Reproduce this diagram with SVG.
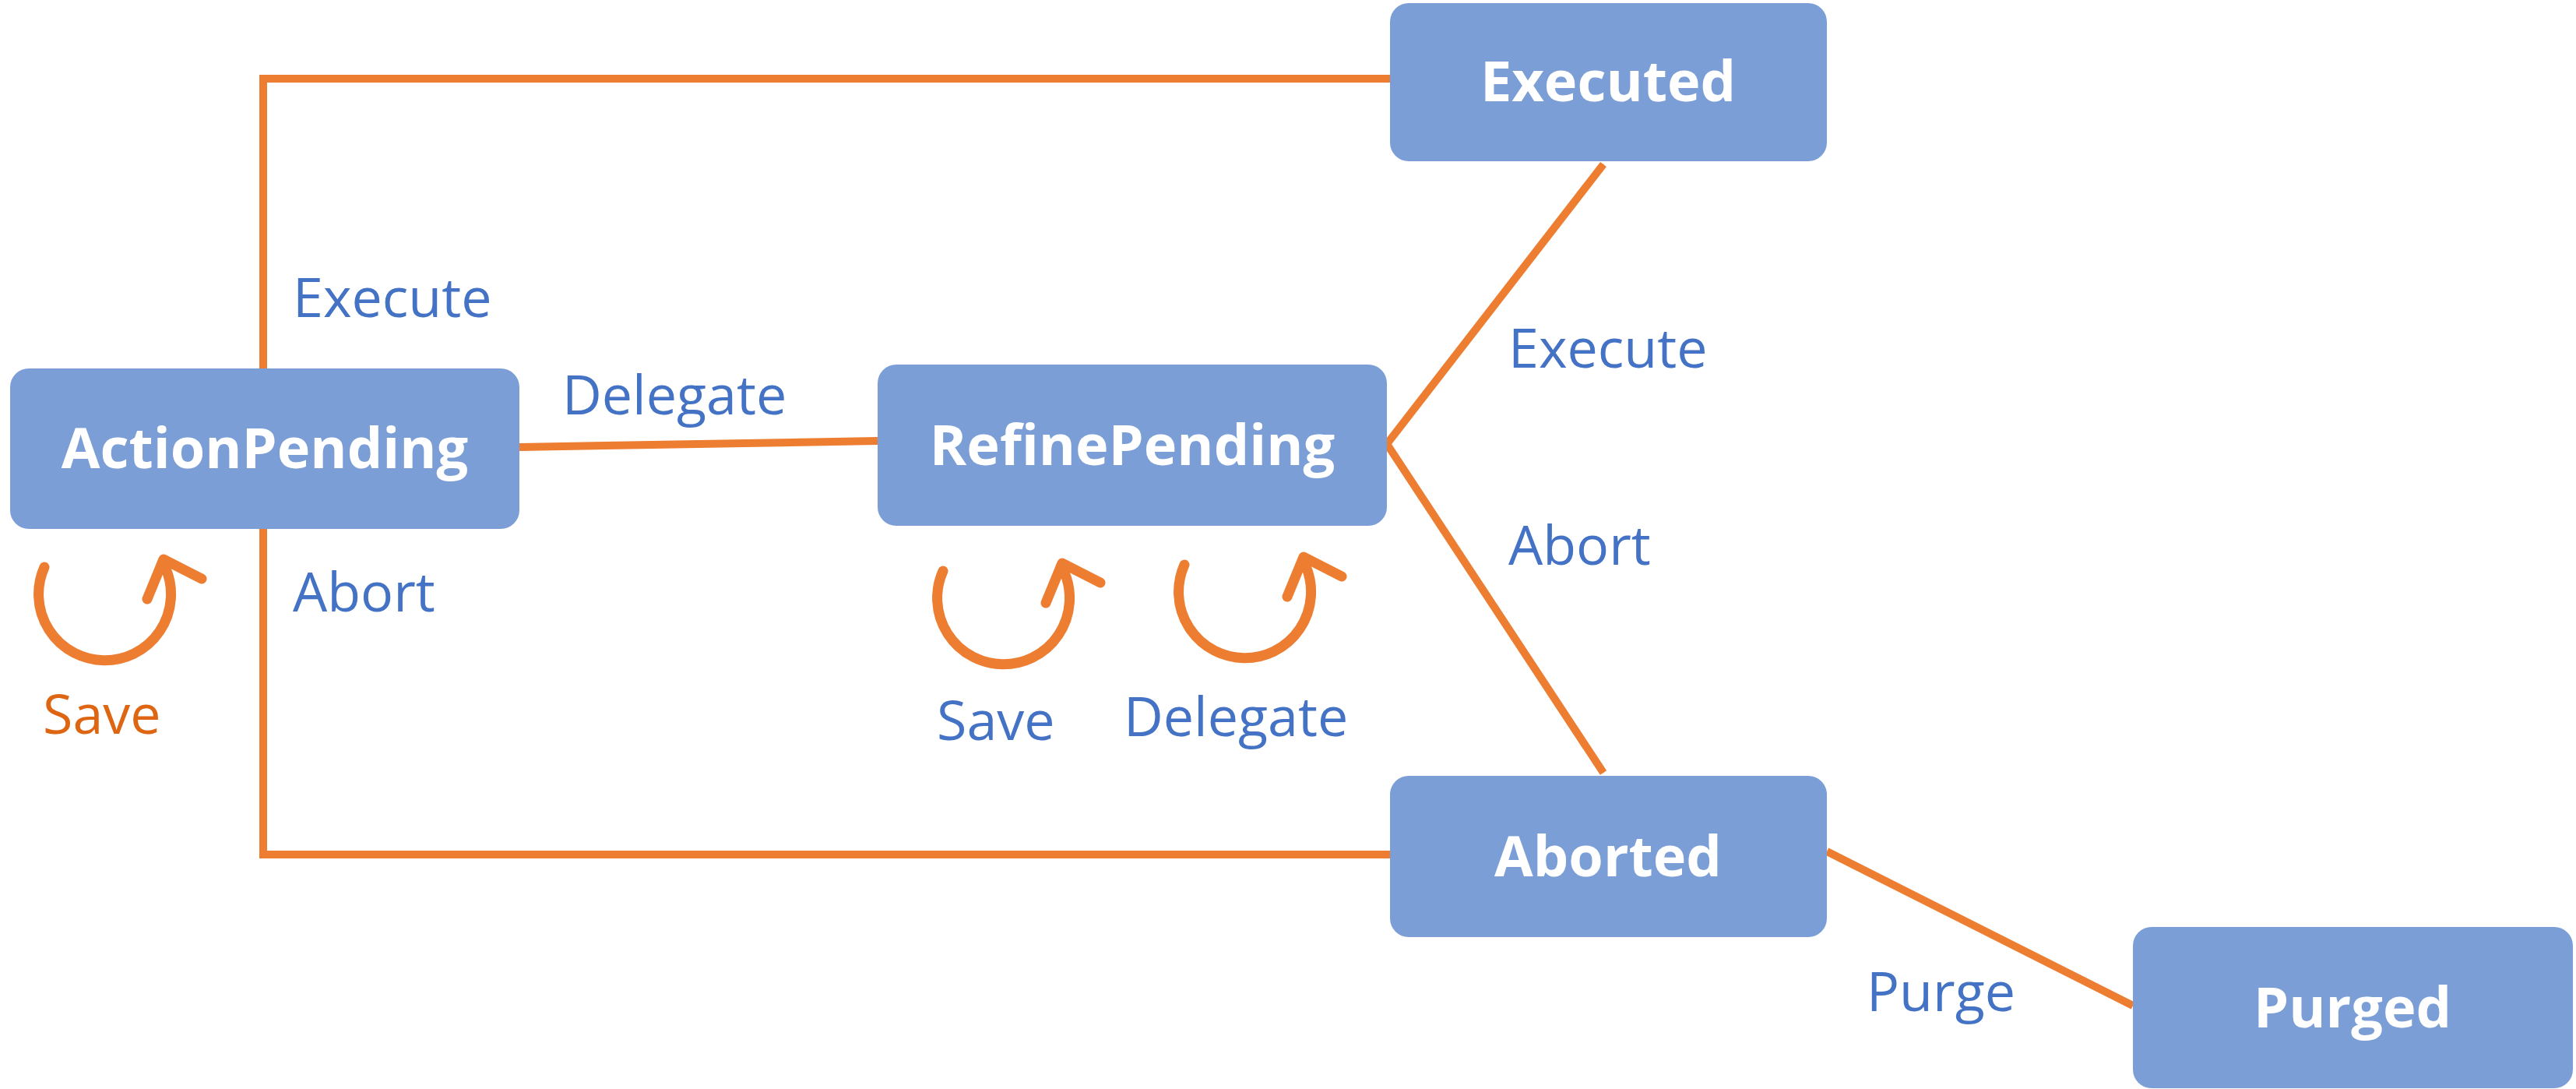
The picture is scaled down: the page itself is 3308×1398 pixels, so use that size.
<svg xmlns="http://www.w3.org/2000/svg" width="3308" height="1398" viewBox="0 0 3308 1398">
<defs>
<style>
.n{fill:#7B9ED7}
.nt{fill:#fff;font-family:"Open Sans","Noto Sans",sans-serif;font-weight:bold;font-size:72px;text-anchor:middle}
.e{fill:none;stroke:#ED7D31;stroke-width:10}
.l{fill:#4472C4;font-family:"Open Sans","Noto Sans",sans-serif;font-size:70px}
.lo{fill:#DE6612;font-family:"Open Sans","Noto Sans",sans-serif;font-size:70px}
.lp{fill:none;stroke:#ED7D31;stroke-width:13;stroke-linecap:round;stroke-linejoin:round}
</style>
<marker id="a" markerWidth="10" markerHeight="10" refX="9" refY="5" orient="auto" markerUnits="userSpaceOnUse" viewBox="0 0 10 10"><path d="M0,0 L10,5 L0,10 z" fill="#ED7D31"/></marker>
<g id="loop"><path class="lp" d="M57,728 A85,85 0 1 0 213,730"/><path class="lp" d="M189,769 L210,718 L259,743"/></g>
</defs>
<g id="connectors">
<path class="e" d="M338,473 V101 H1785" marker-end="url(#a)" style="marker-end:url(#a)"/>
<path class="e" d="M338,679 V1097 H1785" style="marker-end:url(#a)"/>
<path class="e" d="M667,574 L1127,566" style="marker-end:url(#a)"/>
<path class="e" d="M1781,570 L2059,211" style="marker-end:url(#a)"/>
<path class="e" d="M1781,570 L2059,992" style="marker-end:url(#a)"/>
<path class="e" d="M2346,1093 L2739,1291" style="marker-end:url(#a)"/>
<use href="#loop"/>
<use href="#loop" transform="translate(1154,5)"/>
<use href="#loop" transform="translate(1464,-3)"/>
<text class="l" x="376" y="407">Execute</text>
<text class="l" x="376" y="785">Abort</text>
<text class="l" x="722" y="532">Delegate</text>
<text class="l" x="1937" y="472">Execute</text>
<text class="l" x="1937" y="725">Abort</text>
<text class="l" x="2397" y="1298">Purge</text>
<text class="lo" x="55" y="942">Save</text>
<text class="l" x="1203" y="950">Save</text>
<text class="l" x="1443" y="945">Delegate</text>
</g>
<g id="Executed"><rect class="n" x="1785" y="4" width="561" height="203" rx="24"/><text class="nt" x="2065" y="130">Executed</text></g>
<g id="ActionPending"><rect class="n" x="13" y="473" width="654" height="206" rx="24"/><text class="nt" x="340" y="601">ActionPending</text></g>
<g id="RefinePending"><rect class="n" x="1127" y="468" width="654" height="207" rx="24"/><text class="nt" x="1454" y="597">RefinePending</text></g>
<g id="Aborted"><rect class="n" x="1785" y="996" width="561" height="207" rx="24"/><text class="nt" x="2065" y="1125">Aborted</text></g>
<g id="Purged"><rect class="n" x="2739" y="1190" width="565" height="207" rx="24"/><text class="nt" x="3021" y="1319">Purged</text></g>
</svg>
